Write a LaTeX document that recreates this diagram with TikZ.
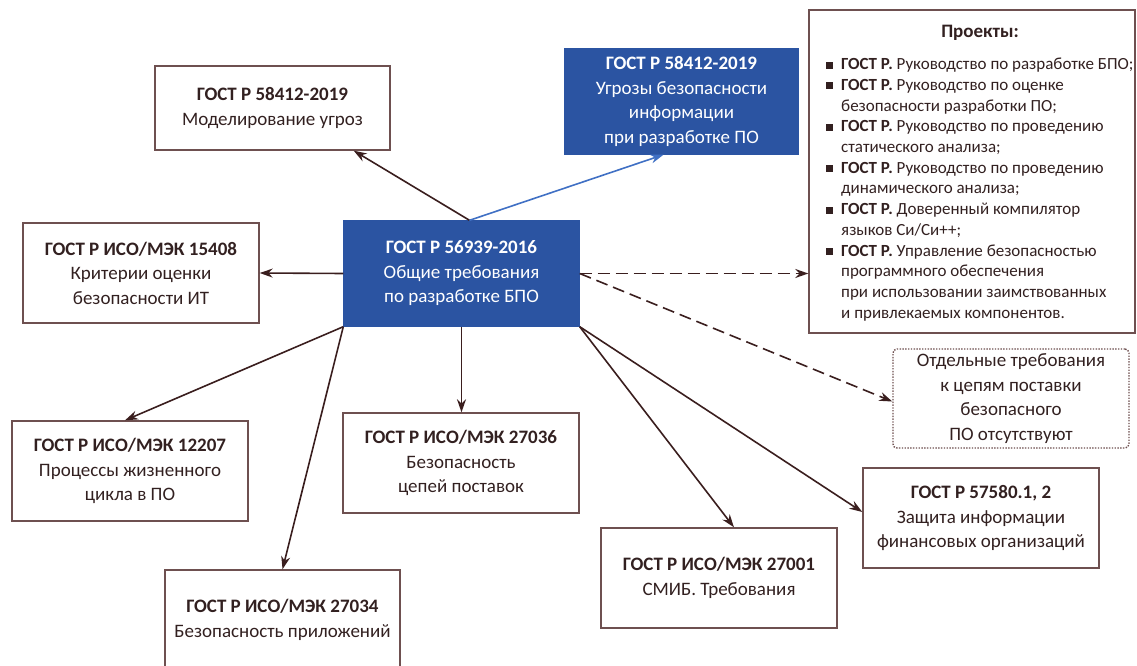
\documentclass[tikz,border=0pt]{standalone}
\usepackage{fontspec}
\setmainfont{Carlito}
\usetikzlibrary{arrows.meta,calc}

\definecolor{gostblue}{RGB}{43,84,162}
\definecolor{linkblue}{RGB}{64,112,196}
\definecolor{boxbrown}{RGB}{110,80,80}
\definecolor{linkbrown}{RGB}{58,30,30}
\definecolor{textbrown}{RGB}{50,32,32}

\newcommand{\boxfont}{\fontsize{19}{24.5}\selectfont}
\newcommand{\projfont}{\fontsize{17}{20.7}\selectfont}
\newcommand{\projbullet}{\makebox[15pt][l]{\rule[1pt]{7pt}{7pt}}}
\newcommand{\projindent}{\hspace*{15pt}}

\begin{document}
\begin{tikzpicture}[
	x=1pt, y=-1pt,
	gostbox/.style={draw=boxbrown, line width=1.4pt, text=textbrown, align=center,
		font=\boxfont, inner sep=0pt, minimum width=236pt, minimum height=100pt},
	bluebox/.style={gostbox, draw=gostblue, fill=gostblue, text=white},
	link/.style={draw=linkbrown, line width=1.6pt, -{Stealth[length=13pt,width=9pt]}},
	planned/.style={link, dash pattern=on 12pt off 6pt}
	]
	\useasboundingbox (0,0) rectangle (1137,666);
	
	% central standard
	\node[bluebox, minimum width=235pt, minimum height=105pt] (bpo) at (461.5,273.5)
	{\textbf{ГОСТ Р 56939-2016}\\Общие требования\\по разработке БПО};
	
	% related standards
	\node[gostbox, minimum width=235pt, minimum height=84pt] (modthreat) at (272.5,108)
	{\textbf{ГОСТ Р 58412-2019}\\Моделирование угроз};
	\node[bluebox, minimum width=233pt, minimum height=105pt] (threats) at (681.5,101.5)
	{\textbf{ГОСТ Р 58412-2019}\\Угрозы безопасности\\информации\\при разработке ПО};
	\node[gostbox] (itcrit) at (141,273)
	{\textbf{ГОСТ Р ИСО/МЭК 15408}\\Критерии оценки\\безопасности ИТ};
	\node[gostbox] (lifecycle) at (130,471)
	{\textbf{ГОСТ Р ИСО/МЭК 12207}\\Процессы жизненного\\цикла в ПО};
	\node[gostbox] (supply) at (461,463)
	{\textbf{ГОСТ Р ИСО/МЭК 27036}\\Безопасность\\цепей поставок};
	\node[gostbox, minimum width=235pt] (appsec) at (282.5,620)
	{\textbf{ГОСТ Р ИСО/МЭК 27034}\\Безопасность приложений};
	\node[gostbox] (isms) at (719,578)
	{\textbf{ГОСТ Р ИСО/МЭК 27001}\\СМИБ. Требования};
	\node[gostbox] (finorg) at (981,518)
	{\textbf{ГОСТ Р 57580.1, 2}\\Защита информации\\финансовых организаций};
	\node[gostbox, minimum height=99pt, rounded corners=4pt,
		dash pattern=on 1.4pt off 1.4pt] (nosupply) at (1011,398.5)
	{Отдельные требования\\к цепям поставки\\безопасного\\ПО отсутствуют};
	
	% projects
	\node[gostbox, minimum width=326pt, minimum height=323pt] (projects) at (972,171.5) {};
	\node[font=\fontsize{19}{23}\selectfont\bfseries, text=textbrown] (projtitle) at (980,33) {Проекты:};
	\node[anchor=north west, align=left, font=\projfont, text=textbrown, inner sep=0pt]
	(projlist) at (826,58) {%
		\projbullet\textbf{ГОСТ Р.} Руководство по разработке БПО;\\
		\projbullet\textbf{ГОСТ Р.} Руководство по оценке\\
		\projindent безопасности разработки ПО;\\
		\projbullet\textbf{ГОСТ Р.} Руководство по проведению\\
		\projindent статического анализа;\\
		\projbullet\textbf{ГОСТ Р.} Руководство по проведению\\
		\projindent динамического анализа;\\
		\projbullet\textbf{ГОСТ Р.} Доверенный компилятор\\
		\projindent языков Си/Си++;\\
		\projbullet\textbf{ГОСТ Р.} Управление безопасностью\\
		\projindent программного обеспечения\\
		\projindent при использовании заимствованных\\
		\projindent и привлекаемых компонентов.};
	
	% connectors
	\coordinate (bpotop) at ($(bpo.north)+(8pt,0pt)$);
	\draw[link] (bpotop) -- ($(modthreat.south east)+(-37pt,0pt)$);
	\draw[link, draw=linkblue] (bpotop) -- ($(threats.south)+(-18pt,0pt)$);
	\draw[link] (bpo.west) -- (itcrit.east);
	\draw[link] (bpo.south west) -- ($(lifecycle.north)+(-5pt,0pt)$);
	\draw[link] (bpo.south west) -- (appsec.north);
	\draw[link] (bpo.south) -- (bpo.south |- supply.north);
	\draw[link] (bpo.south east) -- ($(isms.north)+(15pt,0pt)$);
	\draw[link] (bpo.south east) -- ($(finorg.west)+(0pt,6pt)$);
	\draw[planned] (bpo.east) -- (bpo.east -| projects.west);
	\draw[planned] (bpo.east) -- ($(nosupply.west)+(0pt,-3pt)$);
	
\end{tikzpicture}
\end{document}
